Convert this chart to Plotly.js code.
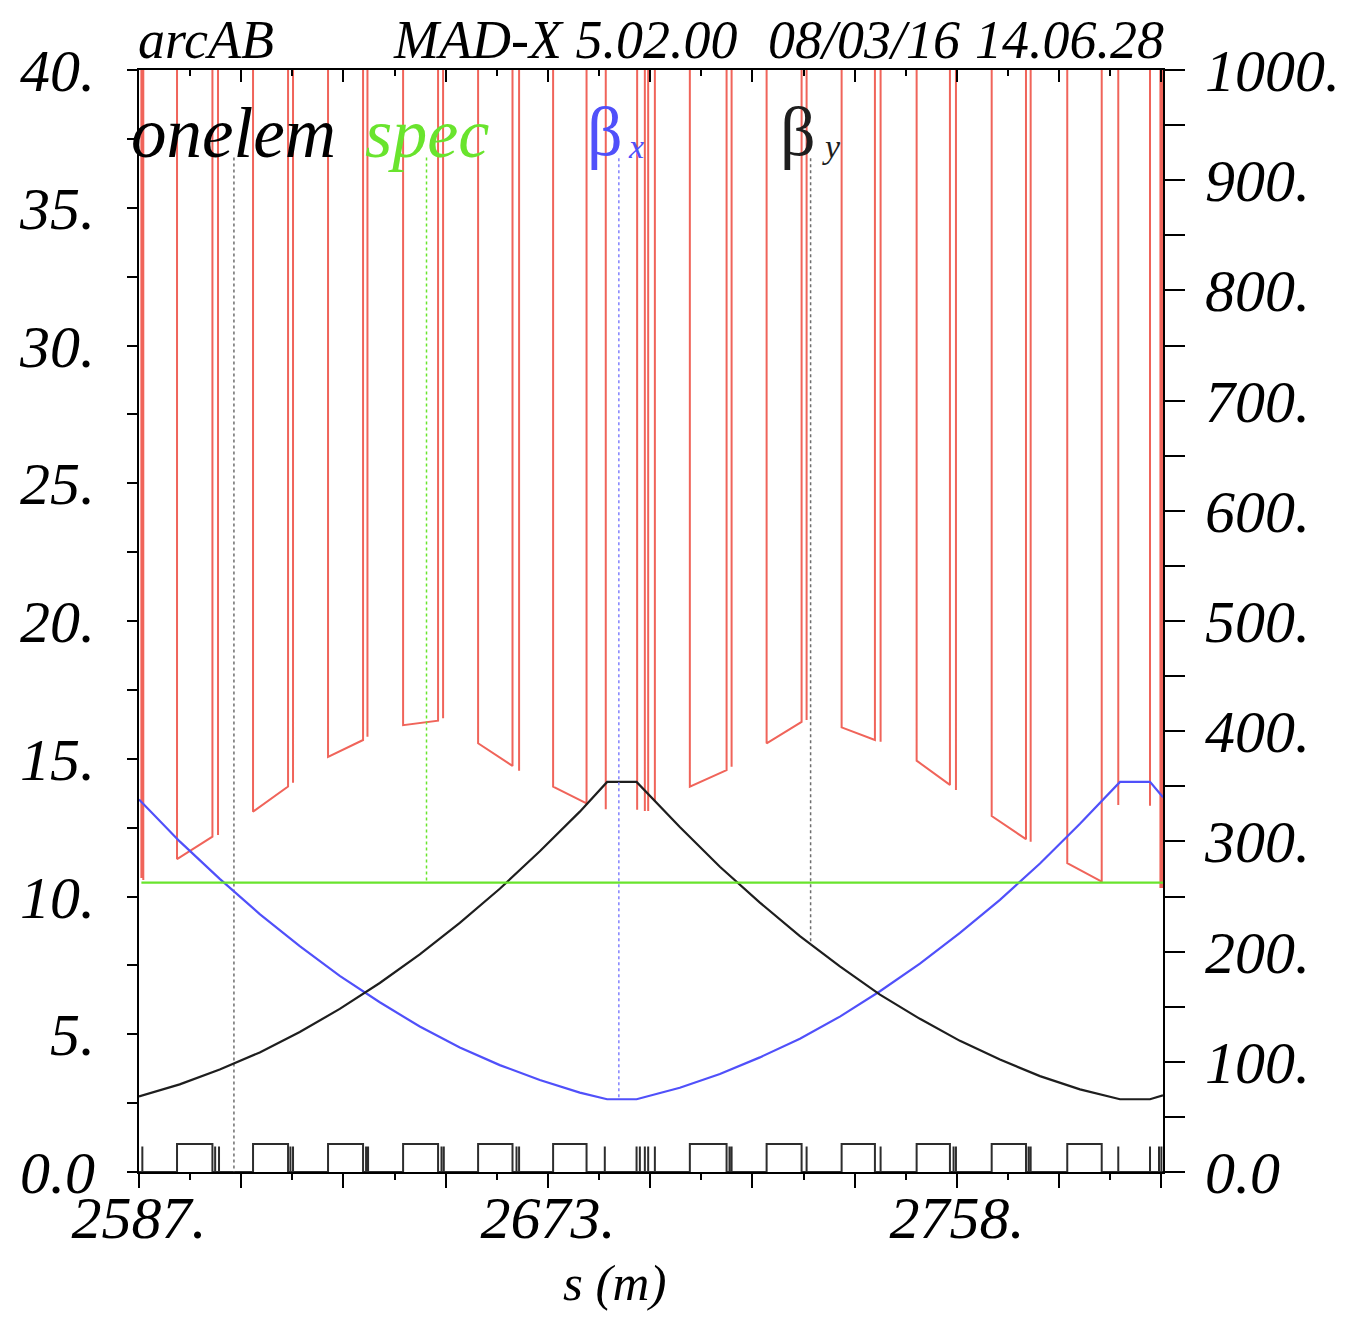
<!DOCTYPE html>
<html><head><meta charset="utf-8">
<script src="https://cdn.plot.ly/plotly-3.0.1.min.js"></script>
<style>html,body{margin:0;padding:0;background:#fff}</style>
</head><body><div id="chart" style="width:1348px;height:1317px"></div>
<script>
// ---- beta functions (m), right axis ----
const sBeta = [2587.4, 2595.92, 2604.3, 2612.67, 2621.05, 2629.42, 2637.8, 2646.17, 2654.55, 2662.92, 2671.3, 2679.67, 2685.39,
               2691.55, 2700.6, 2708.99, 2717.36, 2725.74, 2734.11, 2742.49, 2750.86, 2759.24, 2767.61, 2775.99, 2784.36, 2792.74, 2799.02, 2801.74];
const betaX = [338, 300, 266, 234, 205, 178, 154, 132, 113, 97, 83.5, 72, 66,
               66, 76.5, 89, 104, 121, 141, 164, 189, 217, 247, 280, 316, 354, 354, 340];
const betaY = [68.5, 79.5, 93, 108.5, 127, 148, 171.5, 197.5, 226, 257, 291, 327, 354,
               354, 313, 277, 244.5, 214, 186.5, 161, 139, 119, 102, 87, 75, 66, 66, 69.5];

// ---- spec (left axis) ----
const specS = [2587.9, 2801.74];
const specV = [10.5, 10.5];

// ---- dipoles (bends) ----
const dipStart = [2595.36, 2611.27, 2626.97, 2642.68, 2658.38, 2674.08, 2702.7, 2718.77, 2734.47, 2750.17, 2765.88, 2781.7];
const dipEnd   = [2602.77, 2618.6, 2634.3, 2650.0, 2665.58, 2681.08, 2710.39, 2726.09, 2741.44, 2757.14, 2773.06, 2788.91];
const redDipIn  = [11.36, 13.08, 15.07, 16.22, 15.56, 13.99, 13.99, 15.56, 16.14, 14.93, 12.92, 11.21];
const redDipOut = [12.17, 13.99, 15.68, 16.38, 14.74, 13.38, 14.59, 16.34, 15.68, 14.05, 12.08, 10.54];

// ---- thin elements in the red curve ----
const redSpikeS = [2587.9, 2588.3, 2603.94, 2619.64, 2635.22, 2651.05, 2666.96, 2685.1, 2691.67, 2693.28, 2693.98, 2695.38,
                   2711.44, 2727.14, 2742.63, 2758.4, 2774.04, 2792.38, 2799.02, 2801.2, 2801.6];
const redSpikeV = [10.67, 10.6, 12.23, 14.13, 15.80, 16.47, 14.56, 13.17, 13.15, 13.1, 13.1, 13.45,
                   14.71, 16.41, 15.62, 13.87, 11.99, 13.32, 13.29, 10.31, 10.31];
const redOff = 60; // value above the plotted range

// ---- onelem (element layout) ----
const boxHeight = 1.02;
const thinS = [2588.1, 2603.34, 2604.15, 2619.1, 2619.64, 2634.93, 2635.35, 2650.72, 2651.2, 2666.42, 2666.96, 2684.9,
               2691.55, 2692.24, 2693.28, 2693.98, 2695.38, 2711.0, 2711.44, 2727.14, 2742.63, 2757.9, 2758.4,
               2773.6, 2774.04, 2792.38, 2799.02, 2800.9, 2801.4];
const thinHeight = 0.93;

// ---- legend guide lines ----
const guideS = [2607.27, 2647.58, 2687.84, 2727.98];
const guideTopLeft = 36.82, guideTopRight = 920;
const guideBottom = [0, 10.5, 66, 206.5];

// ---- axis ticks ----
const xRange = [2587.4, 2801.74];
const xMajor = [2587.4, 2608.8, 2630.2, 2651.6, 2673.0, 2694.4, 2715.8, 2737.2, 2758.6, 2780.0, 2801.4];
const xMajorText = ["2587.", "", "", "", "2673.", "", "", "", "2758.", "", ""];
const xMinor = [2598.1, 2619.5, 2640.9, 2662.3, 2683.7, 2705.1, 2726.5, 2747.9, 2769.3, 2790.7];
const yLeftVals = [0, 5, 10, 15, 20, 25, 30, 35, 40];
const yLeftText = ["0.0", "5.", "10.", "15.", "20.", "25.", "30.", "35.", "40."];
const yLeftMinor = [2.5, 7.5, 12.5, 17.5, 22.5, 27.5, 32.5, 37.5];
const yRightVals = [0, 100, 200, 300, 400, 500, 600, 700, 800, 900, 1000];
const yRightText = ["0.0", "100.", "200.", "300.", "400.", "500.", "600.", "700.", "800.", "900.", "1000."];
const yRightMinor = [50, 150, 250, 350, 450, 550, 650, 750, 850, 950];

// build red path
let segs = [];
dipStart.forEach((a, i) => segs.push({s: a, x: [a, a, dipEnd[i], dipEnd[i]], y: [redOff, redDipIn[i], redDipOut[i], redOff]}));
redSpikeS.forEach((s, i) => segs.push({s: s, x: [s, s, s], y: [redOff, redSpikeV[i], redOff]}));
segs.sort((p, q) => p.s - q.s);
const redX = [], redY = [];
segs.forEach(g => { redX.push(...g.x); redY.push(...g.y); });

// build onelem path
let esegs = [];
dipStart.forEach((a, i) => esegs.push({s: a, x: [a, a, dipEnd[i], dipEnd[i]], y: [0, boxHeight, boxHeight, 0]}));
thinS.forEach(s => esegs.push({s: s, x: [s, s, s], y: [0, thinHeight, 0]}));
esegs.sort((p, q) => p.s - q.s);
const elX = [xRange[0]], elY = [0];
esegs.forEach(g => { elX.push(...g.x); elY.push(...g.y); });
elX.push(xRange[1]); elY.push(0);

const RED = 'rgb(240,100,90)', GREEN = 'rgb(105,228,45)', BLUE = 'rgb(80,80,250)', BLACK = 'rgb(30,30,30)';

const traces = [
  {x: redX, y: redY, mode: 'lines', line: {color: RED, width: 2}, xaxis: 'x', yaxis: 'y', hoverinfo: 'skip'},
  {x: specS, y: specV, mode: 'lines', line: {color: GREEN, width: 2.2}, xaxis: 'x2', yaxis: 'y', name: 'spec'},
  {x: elX, y: elY, mode: 'lines', line: {color: 'rgb(45,45,45)', width: 2}, xaxis: 'x', yaxis: 'y', name: 'onelem'},
  {x: sBeta, y: betaX, mode: 'lines', line: {color: BLUE, width: 2.2}, xaxis: 'x', yaxis: 'y2', name: 'βx'},
  {x: sBeta, y: betaY, mode: 'lines', line: {color: BLACK, width: 2.2}, xaxis: 'x', yaxis: 'y2', name: 'βy'},
  {x: [guideS[0], guideS[0]], y: [guideTopLeft, guideBottom[0]], mode: 'lines', line: {color: 'rgb(110,110,110)', width: 1.5, dash: 'dot'}, xaxis: 'x', yaxis: 'y'},
  {x: [guideS[1], guideS[1]], y: [guideTopLeft, guideBottom[1]], mode: 'lines', line: {color: GREEN, width: 1.5, dash: 'dot'}, xaxis: 'x', yaxis: 'y'},
  {x: [guideS[2], guideS[2]], y: [guideTopRight, guideBottom[2]], mode: 'lines', line: {color: 'rgb(130,130,255)', width: 1.5, dash: 'dot'}, xaxis: 'x', yaxis: 'y2'},
  {x: [guideS[3], guideS[3]], y: [guideTopRight, guideBottom[3]], mode: 'lines', line: {color: 'rgb(110,110,110)', width: 1.5, dash: 'dot'}, xaxis: 'x', yaxis: 'y2'}
];

const L = 139, T = 70, W = 1024, H = 1102;
const px = v => (v - L) / W;
const py = v => (T + H - v) / H;
const SERIF = 'Liberation Serif, Times New Roman, serif';
function ann(text, x, y, size, color, xanchor, italic) {
  return {text: text, xref: 'paper', yref: 'paper', x: px(x), y: py(y), xanchor: xanchor, yanchor: 'middle',
          showarrow: false, font: {family: SERIF, size: size, color: color, style: italic ? 'italic' : 'normal'}};
}
const tickFont = {family: SERIF, size: 60, color: 'black', style: 'italic'};

const layout = {
  width: 1348, height: 1317,
  margin: {l: L, r: 1348 - L - W, t: T, b: 1317 - T - H},
  paper_bgcolor: 'white', plot_bgcolor: 'white',
  showlegend: false,
  xaxis: {range: xRange, showgrid: false, zeroline: false, showline: true, linecolor: 'black', linewidth: 2,
          tickmode: 'array', tickvals: xMajor, ticktext: xMajorText, ticks: 'outside', ticklen: 14, tickwidth: 2, tickcolor: 'black',
          minor: {tickmode: 'array', tickvals: xMinor, ticks: 'outside', ticklen: 6, tickwidth: 2, tickcolor: 'black', showgrid: false},
          tickfont: tickFont, anchor: 'y', ticklabelstandoff: -22},
  xaxis2: {range: xRange, overlaying: 'x', side: 'top', anchor: 'y', showgrid: false, zeroline: false, showline: true, linecolor: 'black', linewidth: 2,
           tickmode: 'array', tickvals: xMajor, ticks: 'inside', ticklen: 12, tickwidth: 2, tickcolor: 'black', showticklabels: false,
           minor: {tickmode: 'array', tickvals: xMinor, ticks: 'inside', ticklen: 6, tickwidth: 2, tickcolor: 'black', showgrid: false}},
  yaxis: {range: [0, 40], showgrid: false, zeroline: false, showline: true, linecolor: 'black', linewidth: 2,
          tickmode: 'array', tickvals: yLeftVals, ticktext: yLeftText, ticks: 'outside', ticklen: 10, tickwidth: 2, tickcolor: 'black',
          minor: {tickmode: 'array', tickvals: yLeftMinor, ticks: 'outside', ticklen: 10, tickwidth: 2, tickcolor: 'black', showgrid: false},
          tickfont: tickFont, ticklabelstandoff: 20},
  yaxis2: {range: [0, 1000], overlaying: 'y', side: 'right', anchor: 'x', showgrid: false, zeroline: false, showline: true, linecolor: 'black', linewidth: 2,
           tickmode: 'array', tickvals: yRightVals, ticktext: yRightText, ticks: 'outside', ticklen: 20, tickwidth: 2, tickcolor: 'black',
           minor: {tickmode: 'array', tickvals: yRightMinor, ticks: 'outside', ticklen: 20, tickwidth: 2, tickcolor: 'black', showgrid: false},
           tickfont: tickFont, ticklabelstandoff: 8},
  annotations: [
    ann('arcAB', 136, 40, 54, 'black', 'left', true),
    ann('MAD-X 5.02.00', 391, 40, 54, 'black', 'left', true),
    ann('08/03/16', 766, 40, 54, 'black', 'left', true),
    ann('14.06.28', 1166, 40, 54, 'black', 'right', true),
    ann('onelem', 129, 133, 71, 'black', 'left', true),
    ann('spec', 363, 133, 70, GREEN, 'left', true),
    ann('β', 585, 131, 70, BLUE, 'left', false),
    ann('x', 626, 146, 34, BLUE, 'left', true),
    ann('β', 778, 131, 70, BLACK, 'left', false),
    ann('y', 820, 146, 34, BLACK, 'left', true),
    ann('s (m)', 614, 1283, 51, 'black', 'center', true)
  ]
};

Plotly.newPlot('chart', traces, layout, {displayModeBar: false, staticPlot: true});
</script></body></html>
